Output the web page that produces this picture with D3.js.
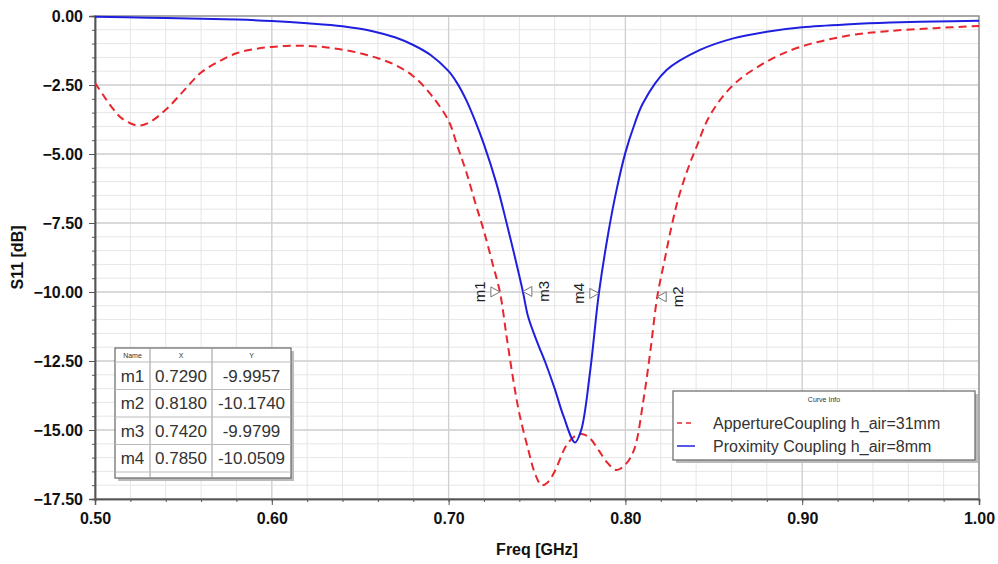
<!DOCTYPE html>
<html>
<head>
<meta charset="utf-8">
<script src="https://cdn.jsdelivr.net/npm/d3@7"></script>
<style>
  body { margin: 0; background: #fff; }
  text { font-family: "Liberation Sans", Arial, sans-serif; }
</style>
</head>
<body>
<script>
// series: frequency [GHz] and S11 [dB]
var apertureFreq = [0.500, 0.505, 0.510, 0.515, 0.5238, 0.530, 0.540, 0.550, 0.560, 0.570, 0.580,
  0.590, 0.600, 0.610, 0.620, 0.630, 0.640, 0.650, 0.660, 0.670, 0.680, 0.690, 0.700, 0.705,
  0.710, 0.715, 0.720, 0.725, 0.729, 0.733, 0.7366, 0.740, 0.745, 0.749, 0.7526, 0.756, 0.760,
  0.7667, 0.772, 0.776, 0.780, 0.785, 0.790, 0.795, 0.800, 0.805, 0.810, 0.814, 0.818, 0.822,
  0.826, 0.830, 0.835, 0.8403, 0.8478, 0.861, 0.880, 0.899, 0.927, 0.948, 0.975, 1.000];
var apertureS11 = [-2.42, -2.90, -3.35, -3.70, -3.97, -3.88, -3.40, -2.72, -2.05, -1.65, -1.35,
  -1.20, -1.12, -1.08, -1.08, -1.13, -1.22, -1.35, -1.53, -1.78, -2.18, -2.85, -3.80, -4.72,
  -5.65, -6.75, -7.80, -9.00, -9.9957, -11.70, -13.19, -14.40, -15.70, -16.60, -17.00, -16.90, -16.50,
  -15.55, -15.20, -15.15, -15.30, -15.75, -16.20, -16.45, -16.25, -15.70, -14.00, -12.20, -10.174, -8.90,
  -7.65, -6.60, -5.60, -4.73, -3.60, -2.50, -1.65, -1.12, -0.70, -0.55, -0.44, -0.36];

var proximityFreq = [0.500, 0.530, 0.560, 0.580, 0.600, 0.620, 0.640, 0.657, 0.670, 0.680, 0.690,
  0.700, 0.705, 0.710, 0.715, 0.720, 0.7272, 0.7328, 0.737, 0.742, 0.745, 0.750, 0.755, 0.760,
  0.765, 0.7715, 0.775, 0.780, 0.785, 0.7903, 0.795, 0.800, 0.805, 0.810, 0.8233, 0.8422, 0.861,
  0.880, 0.900, 0.927, 0.950, 0.975, 1.000];
var proximityS11 = [-0.03, -0.06, -0.10, -0.13, -0.18, -0.26, -0.37, -0.55, -0.78, -1.05, -1.42,
  -2.00, -2.45, -3.05, -3.80, -4.65, -6.10, -7.50, -8.60, -9.9799, -10.90, -11.80, -12.60, -13.50,
  -14.50, -15.45, -15.00, -12.90, -10.0509, -7.87, -6.30, -4.95, -3.95, -3.15, -1.96, -1.23, -0.81,
  -0.57, -0.41, -0.30, -0.24, -0.20, -0.17];

var seriesNames = ["AppertureCoupling h_air=31mm", "Proximity Coupling h_air=8mm"];

var markerNames = ["m1", "m2", "m3", "m4"];
var markerX = [0.7290, 0.8180, 0.7420, 0.7850];
var markerY = [-9.9957, -10.1740, -9.9799, -10.0509];

var xTicks = [0.50, 0.60, 0.70, 0.80, 0.90, 1.00];
var yTicks = [0.00, -2.50, -5.00, -7.50, -10.00, -12.50, -15.00, -17.50];

const width = 998, height = 564;
const pL = 95, pR = 979, pT = 16, pB = 499;

var svg = d3.select("body").append("svg")
    .attr("width", width)
    .attr("height", height);

var x = d3.scaleLinear().domain([0.5, 1.0]).range([pL, pR]);
var y = d3.scaleLinear().domain([-17.5, 0]).range([pB, pT]);

// grid, minor first then major
var minorX = d3.range(0, 26).map(i => 0.5 + i * 0.02);
var minorY = d3.range(0, 36).map(i => -i * 0.5);
var grid = svg.append("g");
grid.selectAll("line.vx").data(minorX).enter().append("line")
  .attr("x1", d => x(d)).attr("x2", d => x(d))
  .attr("y1", pT).attr("y2", pB)
  .attr("stroke", "#e6e6e6").attr("stroke-width", 1);
grid.selectAll("line.hy").data(minorY).enter().append("line")
  .attr("y1", d => y(d)).attr("y2", d => y(d))
  .attr("x1", pL).attr("x2", pR)
  .attr("stroke", "#e6e6e6").attr("stroke-width", 1);
grid.selectAll("line.mx").data(xTicks).enter().append("line")
  .attr("x1", d => x(d)).attr("x2", d => x(d))
  .attr("y1", pT).attr("y2", pB)
  .attr("stroke", "#d0d0d0").attr("stroke-width", 1.3);
grid.selectAll("line.my").data(yTicks).enter().append("line")
  .attr("y1", d => y(d)).attr("y2", d => y(d))
  .attr("x1", pL).attr("x2", pR)
  .attr("stroke", "#d0d0d0").attr("stroke-width", 1.3);

// frame
svg.append("rect")
  .attr("x", pL).attr("y", pT)
  .attr("width", pR - pL).attr("height", pB - pT)
  .attr("fill", "none").attr("stroke", "#999").attr("stroke-width", 1.5);

// axes
var fmt = d3.format(".2f");
var yAxis = svg.append("g").attr("transform", `translate(${pL},0)`)
  .call(d3.axisLeft(y).tickValues(yTicks).tickFormat(fmt).tickSize(6).tickPadding(6));
var yMinor = svg.append("g").attr("transform", `translate(${pL},0)`)
  .call(d3.axisLeft(y).tickValues(minorY).tickFormat("").tickSize(3));
var xAxis = svg.append("g").attr("transform", `translate(0,${pB})`)
  .call(d3.axisBottom(x).tickValues(xTicks).tickFormat(fmt).tickSize(6).tickPadding(8));
var xMinor = svg.append("g").attr("transform", `translate(0,${pB})`)
  .call(d3.axisBottom(x).tickValues(minorX).tickFormat("").tickSize(3));

[yAxis, yMinor, xAxis, xMinor].forEach(g => {
  g.select(".domain").attr("stroke", "#555").attr("stroke-width", 1.5);
  g.selectAll(".tick line").attr("stroke", "#555");
  g.selectAll(".tick text")
    .attr("font-family", "Liberation Sans, Arial, sans-serif")
    .attr("font-size", 16).attr("font-weight", "bold").attr("fill", "#111");
});

svg.append("text")
  .attr("x", (pL + pR) / 2).attr("y", 555)
  .attr("text-anchor", "middle")
  .attr("font-size", 16).attr("font-weight", "bold").attr("fill", "#111")
  .text("Freq [GHz]");
svg.append("text")
  .attr("transform", `translate(23,${(pT + pB) / 2}) rotate(-90)`)
  .attr("text-anchor", "middle")
  .attr("font-size", 16).attr("font-weight", "bold").attr("fill", "#111")
  .text("S11 [dB]");

// curves
var lineGen = d3.line()
  .x(d => x(d[0]))
  .y(d => y(d[1]))
  .curve(d3.curveCatmullRom.alpha(0.5));

svg.append("clipPath").attr("id", "plotclip")
  .append("rect").attr("x", pL).attr("y", pT - 2)
  .attr("width", pR - pL).attr("height", pB - pT + 2);

var curves = svg.append("g").attr("clip-path", "url(#plotclip)");
curves.append("path")
  .attr("d", lineGen(d3.zip(apertureFreq, apertureS11)))
  .attr("fill", "none").attr("stroke", "#e8262e").attr("stroke-width", 2)
  .attr("stroke-dasharray", "8,5");
curves.append("path")
  .attr("d", lineGen(d3.zip(proximityFreq, proximityS11)))
  .attr("fill", "none").attr("stroke", "#1f1fe0").attr("stroke-width", 2);

// markers: triangle tip sits on the curve, label on the far side
var labelSide = { m1: -1, m2: 1, m3: 1, m4: -1 };
var markers = svg.append("g").selectAll("g")
  .data(markerNames.map((n, i) => ({ name: n, x: markerX[i], y: markerY[i] })))
  .enter().append("g")
  .attr("transform", d => `translate(${x(d.x)},${y(d.y)})`);
markers.append("path")
  .attr("d", d => {
    let s = labelSide[d.name];
    return `M0,0 L${s * 9},-5 L${s * 9},5 Z`;
  })
  .attr("fill", "#fff").attr("stroke", "#777").attr("stroke-width", 1);
markers.append("text")
  .attr("transform", d => `translate(${labelSide[d.name] * 15},0) rotate(-90)`)
  .attr("text-anchor", "middle")
  .attr("dy", d => labelSide[d.name] < 0 ? "0" : "0.75em")
  .attr("font-size", 15).attr("fill", "#222")
  .text(d => d.name);

// marker table
var tx = 115, ty = 348, colX = [115, 150, 212, 291], headH = 14, rowH = 27.5;
var table = svg.append("g");
table.append("rect").attr("x", tx + 3).attr("y", ty + 3)
  .attr("width", colX[3] - tx).attr("height", 130).attr("fill", "#bbb");
table.append("rect").attr("x", tx).attr("y", ty)
  .attr("width", colX[3] - tx).attr("height", 130)
  .attr("fill", "#fff").attr("stroke", "#666").attr("stroke-width", 1.2);
table.selectAll("line.col").data([colX[1], colX[2]]).enter().append("line")
  .attr("x1", d => d).attr("x2", d => d).attr("y1", ty).attr("y2", ty + 130)
  .attr("stroke", "#999");
table.selectAll("line.row").data(d3.range(0, 5)).enter().append("line")
  .attr("x1", tx).attr("x2", colX[3])
  .attr("y1", i => ty + headH + i * rowH).attr("y2", i => ty + headH + i * rowH)
  .attr("stroke", "#bbb");
table.selectAll("text.head").data(["Name", "X", "Y"]).enter().append("text")
  .attr("x", (d, i) => (colX[i] + colX[i + 1]) / 2).attr("y", ty + 10)
  .attr("text-anchor", "middle").attr("font-size", 7).attr("fill", "#333")
  .text(d => d);
markerNames.forEach((n, i) => {
  let cy = ty + headH + i * rowH + rowH / 2 + 6;
  let cells = [n, markerX[i].toFixed(4), markerY[i].toFixed(4)];
  table.selectAll(null).data(cells).enter().append("text")
    .attr("x", (d, j) => (colX[j] + colX[j + 1]) / 2).attr("y", cy)
    .attr("text-anchor", "middle").attr("font-size", 17).attr("fill", "#333")
    .text(d => d);
});

// legend
var lx = 673, ly = 391, lw = 302, lh = 69;
var legend = svg.append("g");
legend.append("rect").attr("x", lx + 3).attr("y", ly + 3)
  .attr("width", lw).attr("height", lh).attr("fill", "#bbb");
legend.append("rect").attr("x", lx).attr("y", ly)
  .attr("width", lw).attr("height", lh)
  .attr("fill", "#fff").attr("stroke", "#666").attr("stroke-width", 1.2);
legend.append("text").attr("x", lx + lw / 2).attr("y", ly + 11)
  .attr("text-anchor", "middle").attr("font-size", 7).attr("fill", "#333")
  .text("Curve Info");
var legColors = ["#e8262e", "#1f1fe0"];
var legDash = ["5,4", null];
seriesNames.forEach((n, i) => {
  let cy = ly + 32 + i * 23;
  legend.append("line").attr("x1", lx + 4).attr("x2", lx + 22)
    .attr("y1", cy).attr("y2", cy)
    .attr("stroke", legColors[i]).attr("stroke-width", 1.5)
    .attr("stroke-dasharray", legDash[i]);
  legend.append("text").attr("x", lx + 40).attr("y", cy + 6)
    .attr("font-size", 16).attr("fill", "#333")
    .text(n);
});
</script>
</body>
</html>
